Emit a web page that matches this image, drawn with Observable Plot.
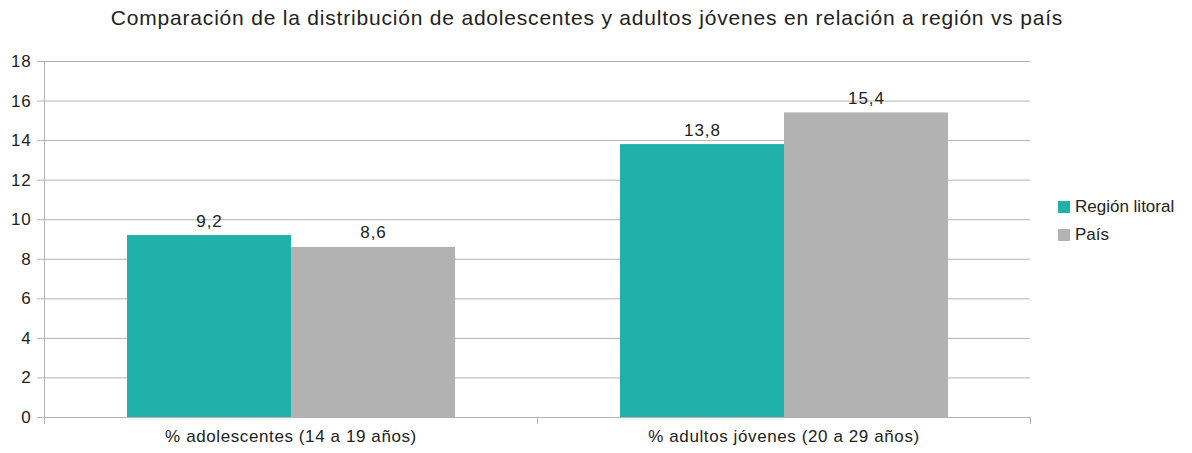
<!DOCTYPE html>
<html><head><meta charset="utf-8">
<script src="https://cdn.jsdelivr.net/npm/d3@7"></script>
<script src="https://cdn.jsdelivr.net/npm/@observablehq/plot@0.6"></script>
<style>
body{margin:0;background:#fff;font-family:"Liberation Sans",Arial,sans-serif;color:#222}
#wrap{position:relative;width:1192px;height:453px;overflow:hidden}
#title{height:40px;line-height:36px;text-align:center;font-size:21px;letter-spacing:0.8px;white-space:nowrap;padding-right:18px}
#legend{position:absolute;left:1058px;top:193px;font-size:17px}
.item{display:flex;align-items:center;height:28px}
.sw{width:12px;height:12px;margin-right:5px;flex:none}
.cat text{letter-spacing:0.6px}
.val text{letter-spacing:1px}
.yax text{letter-spacing:0.8px}
</style></head><body>
<div id="wrap">
<div id="title">Comparación de la distribución de adolescentes y adultos jóvenes en relación a región vs país</div>
<div id="chart"></div>
<div id="legend"></div>
</div>
<script>
const categories = ["% adolescentes (14 a 19 años)", "% adultos jóvenes (20 a 29 años)"];
const seriesNames = ["Región litoral", "País"];
const regionValues = [9.2, 13.8];
const paisValues = [8.6, 15.4];
const colors = ["#20b2aa", "#b2b2b2"];
const yTicks = [0, 2, 4, 6, 8, 10, 12, 14, 16, 18];

const data = categories.flatMap((c, i) => [
  {category: c, series: seriesNames[0], value: regionValues[i]},
  {category: c, series: seriesNames[1], value: paisValues[i]}
]);
const fmt = v => v.toFixed(1).replace(".", ",");
const font = '"Liberation Sans", Arial, sans-serif';
const gridColor = "#b3b3b3";

const plot = Plot.plot({
  width: 1192, height: 413,
  marginTop: 21, marginBottom: 36, marginLeft: 44, marginRight: 162,
  style: {fontFamily: font, fontSize: "17px", color: "#222", background: "#fff"},
  fx: {domain: categories, padding: 0, label: null},
  x: {domain: seriesNames, paddingInner: 0, paddingOuter: 0.5, axis: null},
  y: {domain: [0, 18], label: null},
  color: {domain: seriesNames, range: colors},
  marks: [
    Plot.gridY(yTicks, {stroke: gridColor, strokeOpacity: 1}),
    Plot.axisY(yTicks, {tickSize: 7, tickPadding: 6, stroke: gridColor, fill: "#222", fontSize: 17, label: null, className: "yax"}),
    Plot.barY(data, {fx: "category", x: "series", y: "value", fill: "series"}),
    Plot.text(data, {fx: "category", x: "series", y: "value", text: d => fmt(d.value), lineAnchor: "bottom", dy: -9, fontSize: 17, fill: "#222", className: "val"}),
    Plot.axisFx({anchor: "bottom", tickSize: 0, tickPadding: 12, label: null, fontSize: 17, fill: "#222", className: "cat"})
  ]
});
document.getElementById("chart").appendChild(plot);

// axis line and category boundary ticks, positioned from the library's scales
const fxS = plot.scale("fx");
const yS = plot.scale("y");
const fxApply = fxS.apply ? fxS.apply : d3.scaleBand(fxS.domain, fxS.range).padding(0);
const bw = fxS.bandwidth;
const y0 = yS.apply(0), yTop = yS.apply(18);
const bounds = categories.map(c => fxApply(c)).concat([fxApply(categories[categories.length - 1]) + bw]);
const g = d3.select(plot).append("g").attr("stroke", gridColor).attr("shape-rendering", "crispEdges");
g.append("line").attr("x1", bounds[0]).attr("x2", bounds[0]).attr("y1", yTop).attr("y2", y0 + 7);
bounds.forEach(b => g.append("line").attr("x1", b).attr("x2", b).attr("y1", y0).attr("y2", y0 + 7));

const legend = d3.select("#legend");
seriesNames.forEach((s, i) => {
  const it = legend.append("div").attr("class", "item");
  it.append("div").attr("class", "sw").style("background", colors[i]);
  it.append("span").text(s);
});
</script>
</body></html>
